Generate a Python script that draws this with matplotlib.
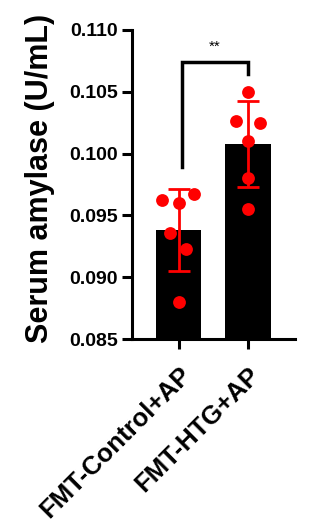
import matplotlib.pyplot as plt
import numpy as np

plt.rcParams['font.family'] = ['Liberation Sans', 'DejaVu Sans']
plt.rcParams['font.weight'] = 'bold'

groups = ['FMT-Control+AP', 'FMT-HTG+AP']
points = [
    [0.09627, 0.09675, 0.0960, 0.09357, 0.09231, 0.08801],
    [0.10502, 0.10263, 0.1025, 0.10105, 0.09804, 0.09548],
]
jitter = [
    [-0.24, 0.22, 0.0, -0.12, 0.11, 0.0],
    [0.0, -0.17, 0.17, 0.0, 0.0, 0.0],
]
means = [np.mean(p) for p in points]
sds = [np.std(p, ddof=1) for p in points]

fig = plt.figure(figsize=(3.22, 5.26), dpi=100)
ax = fig.add_axes([0.41, 0.3555, 0.506, 0.5875])

x = np.arange(len(groups))
ax.bar(x, means, width=0.66, color='black', zorder=1)
for i in x:
    ax.scatter(i + np.array(jitter[i]), points[i], s=85, color='#ff0000',
               zorder=3, linewidths=0)
ax.errorbar(x, means, yerr=sds, fmt='none', ecolor='#ff0000', elinewidth=2,
            capsize=8, capthick=2, zorder=4)

# significance bracket
ax.plot([0.05, 0.05, 1, 1], [0.0989, 0.1074, 0.1074, 0.1064], color='black',
        lw=2.5, solid_joinstyle='miter', zorder=2, clip_on=False)
ax.text(0.52, 0.1081, '**', ha='center', va='bottom', fontsize=11,
        fontweight='normal')

ax.set_ylim(0.085, 0.110)
ax.set_xlim(-0.669, 1.676)
ax.set_yticks([0.085, 0.090, 0.095, 0.100, 0.105, 0.110])
ax.set_yticklabels(['0.085', '0.090', '0.095', '0.100', '0.105', '0.110'])
ax.set_xticks(x)
ax.set_xticklabels(groups, rotation=45, ha='right', rotation_mode='anchor',
                   fontsize=18.5)
ax.set_ylabel('Serum amylase (U/mL)', fontsize=22, fontweight='bold',
              va='center')
ax.yaxis.set_label_coords(-0.564, 0.521)

for s in ['top', 'right']:
    ax.spines[s].set_visible(False)
for s in ['left', 'bottom']:
    ax.spines[s].set_linewidth(2.2)
ax.tick_params(width=2.2, length=7)
ax.tick_params(axis='y', labelsize=14, pad=3)
ax.tick_params(axis='x', pad=10)

fig.savefig('out.png', dpi=100)
